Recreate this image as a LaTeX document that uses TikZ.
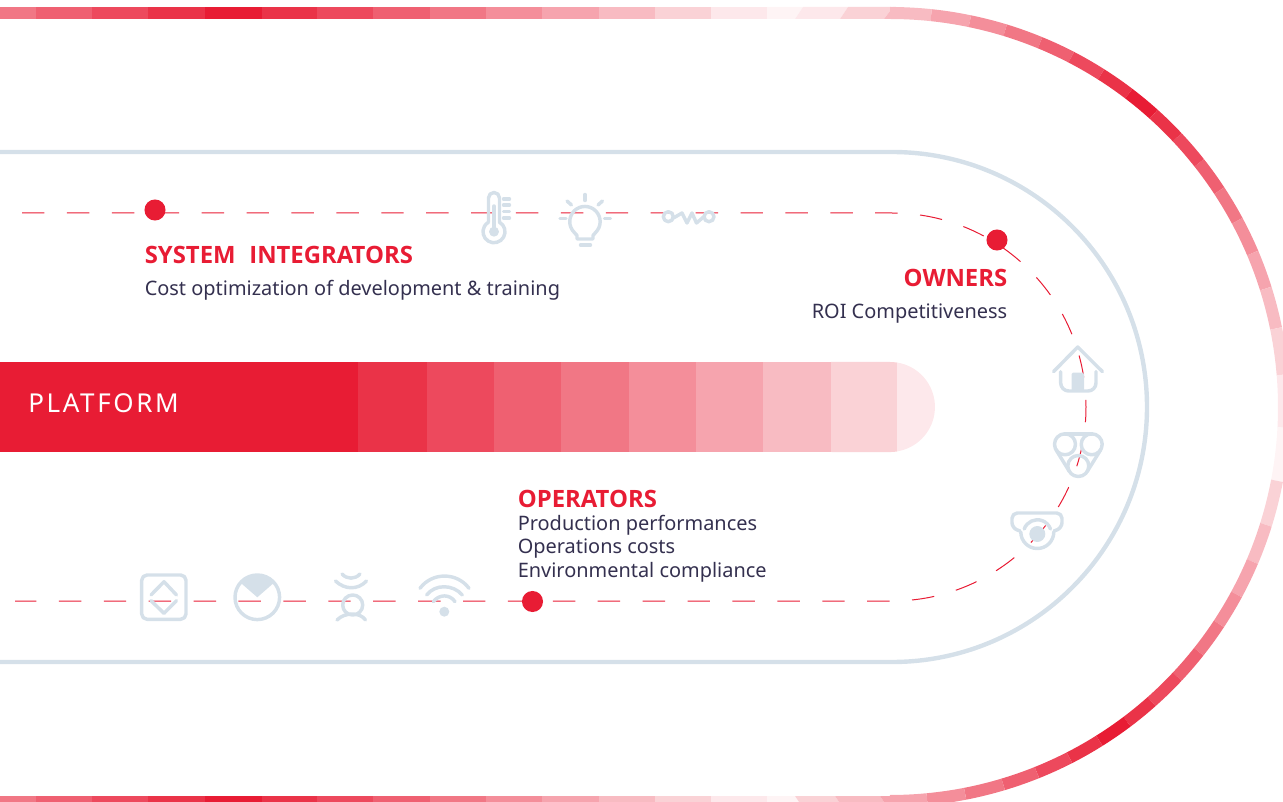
\documentclass[tikz,border=0pt]{standalone}
\usepackage{fontspec}
\usepackage{tikz}
\setmainfont{Noto Sans}
\newfontfamily\spacedfont[LetterSpace=10]{Noto Sans}
\newfontfamily\headfont{Open Sans}
\definecolor{planred}{HTML}{E81C34}
\definecolor{planink}{HTML}{34304F}
\definecolor{planice}{HTML}{D5E0E9}

\begin{document}
\begin{tikzpicture}[x=0.75pt, y=-0.75pt,
	heading/.style={text=planred, font=\fontsize{17.9}{20}\headfont\bfseries, inner sep=0pt},
	bodytext/.style={text=planink, font=\fontsize{14.95}{18}\selectfont, inner sep=0pt},
	marker/.style={circle, fill=planred, minimum size=15.8pt, inner sep=0pt},
	route/.style={draw=planred, line width=0.75pt, dash pattern=on 16.84pt off 16.84pt, dash phase=17.18pt},
	ring/.style={draw=planice, line width=3.3pt},
	icon/.style={draw=planice, line width=2.6pt, line cap=round, line join=round},
	iconfill/.style={fill=planice},
	band/.style={line width=9pt}]
\useasboundingbox (0,0) rectangle (1283,802);
\clip (0,0) rectangle (1283,802);

\foreach \xa/\xb/\t in {0/36/60, 36/92/70, 92/148/80, 148/205/90, 205/262/100, 262/317/90, 317/373/80, 373/430/70, 430/486/60, 486/542/50, 542/599/40, 599/655/30, 655/711/20, 711/767/10} {
	\fill[planred!\t!white] (\xa,7) rectangle (\xb,19);
	\fill[planred!\t!white] (\xa,796) rectangle (\xb,808);
}
\fill[planred!5!white] (767,7) -- (803,7) -- (795,19) -- (767,19) -- cycle;
\fill[planred!10!white] (803,7) -- (848,7) -- (840,19) -- (795,19) -- cycle;
\fill[planred!20!white] (848,7) -- (893,7) -- (884,19) -- (840,19) -- cycle;
\fill[planred!30!white] (893,7) -- (896,7) -- (896,19) -- (884,19) -- cycle;
\fill[planred!5!white] (767,796) -- (795,796) -- (803,808) -- (767,808) -- cycle;
\fill[planred!20!white] (795,796) -- (835,796) -- (843,808) -- (803,808) -- cycle;
\fill[planred!30!white] (835,796) -- (880,796) -- (888,808) -- (843,808) -- cycle;
\fill[planred!40!white] (880,796) -- (896,796) -- (896,808) -- (888,808) -- cycle;

\foreach \a/\b/\t in {-90/-84/30, -84/-78.3/40, -78.3/-73/50, -73/-67.6/60, -67.6/-62.6/70, -62.6/-57.6/80, -57.6/-52.7/90, -52.7/-48/100, -48/-43.2/90, -43.2/-38.3/80, -38.3/-33.3/70, -33.3/-28.2/60, -28.2/-23/50, -23/-17.5/40, -17.5/-11.5/30, -11.5/-4.7/20, -4.7/3/10, 3/10.8/5, 10.8/17.4/20, 17.4/23.1/30, 23.1/28.4/40, 28.4/33.4/50, 33.4/38.4/60, 38.4/43.2/70, 43.2/48.4/80, 48.4/53/90, 53/57.9/100, 57.9/62.9/90, 62.9/68.1/80, 68.1/73.3/70, 73.3/79/60, 79/84.6/50, 84.6/90/40} {
	\draw[band, planred!\t!white] (890,407) ++(\a:394) arc[start angle=\a, end angle=\b, radius=394];
}

\draw[ring] (0,152) -- (892,152) arc[start angle=-90, end angle=90, radius=255] -- (0,662);

\foreach \xa/\xb/\t in {0/358/100, 358/427/90, 427/494/80, 494/561/70, 561/629/60, 629/696/50, 696/763/40, 763/831/30} {
	\fill[planred!\t!white] (\xa,362) rectangle (\xb,452);
}
\fill[planred!20!white] (831,362) -- (890,362) arc[start angle=-90, end angle=-81, radius=45] -- (897,451.5) arc[start angle=81, end angle=90, radius=45] -- (831,452) -- cycle;
\fill[planred!10!white] (897,362.5) arc[start angle=-81, end angle=81, radius=45] -- cycle;

\draw[route] (0,213) -- (892,213) arc[start angle=-90, end angle=90, radius=194] -- (15,601);

\node[marker] (integratorsdot) at (155,210) {};
\node[marker] (ownersdot) at (997,240) {};
\node[marker] (operatorsdot) at (532.5,601.5) {};

\node[anchor=base west, inner sep=0pt, text=white, font=\fontsize{19.5}{20}\spacedfont] (platform) at (28,413) {PLATFORM};
\node[heading, anchor=base west] (integrators) at (144.5,264) {SYSTEM\ \ \kern1pt INTEGRATORS};
\node[bodytext, anchor=base west] (integratorsgoal) at (144.5,296) {Cost optimization of development \& training};
\node[heading, anchor=base east] (owners) at (1007.5,287) {OWNERS};
\node[bodytext, anchor=base east] (ownersgoal) at (1007.5,319) {ROI Competitiveness};
\node[heading, anchor=base west] (operators) at (517.5,508) {OPERATORS};
\node[bodytext, anchor=base west] (performance) at (517.5,530) {Production performances};
\node[bodytext, anchor=base west] (costs) at (517.5,553) {Operations costs};
\node[bodytext, anchor=base west] (compliance) at (517.5,577) {Environmental compliance};

\draw[icon] (488.5,222.2) -- (488.5,198) arc[start angle=180, end angle=360, radius=5.5] -- (499.5,222.2) arc[start angle=-60, end angle=240, radius=11];
\draw[icon] (494,206) -- (494,231);
\fill[iconfill] (494,231.7) circle[radius=5];
\foreach \y in {199, 205, 211.7, 218} {
	\draw[icon] (503.5,\y) -- (509.5,\y);
}

\draw[icon] (577,239) -- (577,235.5) -- (574.2,232.4) arc[start angle=135, end angle=405, radius=15.2] -- (593,235.5) -- (593,239) -- cycle;
\draw[icon] (580.5,245) -- (590.5,245);
\draw[icon] (585,194.5) -- (585,200.5);
\draw[icon] (567,201) -- (571.5,205);
\draw[icon] (602.5,201) -- (598,205);
\draw[icon] (560,218.3) -- (566,218.3);
\draw[icon] (604.5,218.3) -- (610.5,218.3);

\draw[icon] (668.3,216.7) circle[radius=5];
\draw[icon] (709,216.7) circle[radius=5];
\draw[icon] (673.5,218) -- (682,213) -- (687,223) -- (692,213) -- (696.5,223) -- (703.5,217);

\draw[icon] (1053.5,371.7) -- (1077.7,347) -- (1102.5,371.7);
\draw[icon, rounded corners=6pt] (1060.7,371.7) -- (1060.7,391) -- (1096,391) -- (1096,371.7);
\fill[iconfill, rounded corners=1pt] (1071.7,372.7) rectangle (1084,391);

\draw[icon] (1065,444.3) circle[radius=10.5];
\draw[icon] (1091.7,444.3) circle[radius=10.5];
\draw[icon] (1078.3,466) circle[radius=10.5];
\draw[icon] (1065,433.8) -- (1091.7,433.8);
\draw[icon] (1056,449.8) -- (1069.4,471.5);
\draw[icon] (1100.7,449.8) -- (1087.2,471.5);

\draw[icon, rounded corners=4pt] (1020,531) -- (1012,528) -- (1012,513) -- (1062,513) -- (1062,528) -- (1054,531);
\draw[icon] (1020.8,532) arc[start angle=180, end angle=0, radius=16.5];
\draw[icon] (1024.2,529) arc[start angle=200, end angle=340, radius=14];
\fill[iconfill] (1037.3,534) circle[radius=8];

\draw[icon, rounded corners=4pt] (141.7,575) rectangle (186,619.3);
\draw[icon] (151,595) -- (164,581.7) -- (176.5,595);
\draw[icon] (151,600.7) -- (164,613.3) -- (176.5,600.7);

\draw[icon] (257.3,597.3) circle[radius=22.3];
\fill[iconfill] (257.3,597.3) -- ++(-139:22.3) arc[start angle=-139, end angle=-41, radius=22.3] -- cycle;

\draw[icon] (352.7,605) circle[radius=10];
\draw[icon] (337,620) .. controls (345,612) and (360,612) .. (365.5,620);
\draw[icon] (335.5,581) .. controls (345,590) and (358,590) .. (366.5,581);
\draw[icon] (342,574) .. controls (347,579.5) and (355,579.5) .. (360,574);

\draw[icon] (420,588.3) .. controls (432,572) and (457,572) .. (469,588.3);
\draw[icon] (426.7,595) .. controls (435,584) and (453,584) .. (462.3,595);
\draw[icon] (433.3,601.7) .. controls (439,594) and (450,594) .. (455,601.7);
\fill[iconfill] (444.3,611.7) circle[radius=5];
\end{tikzpicture}
\end{document}
